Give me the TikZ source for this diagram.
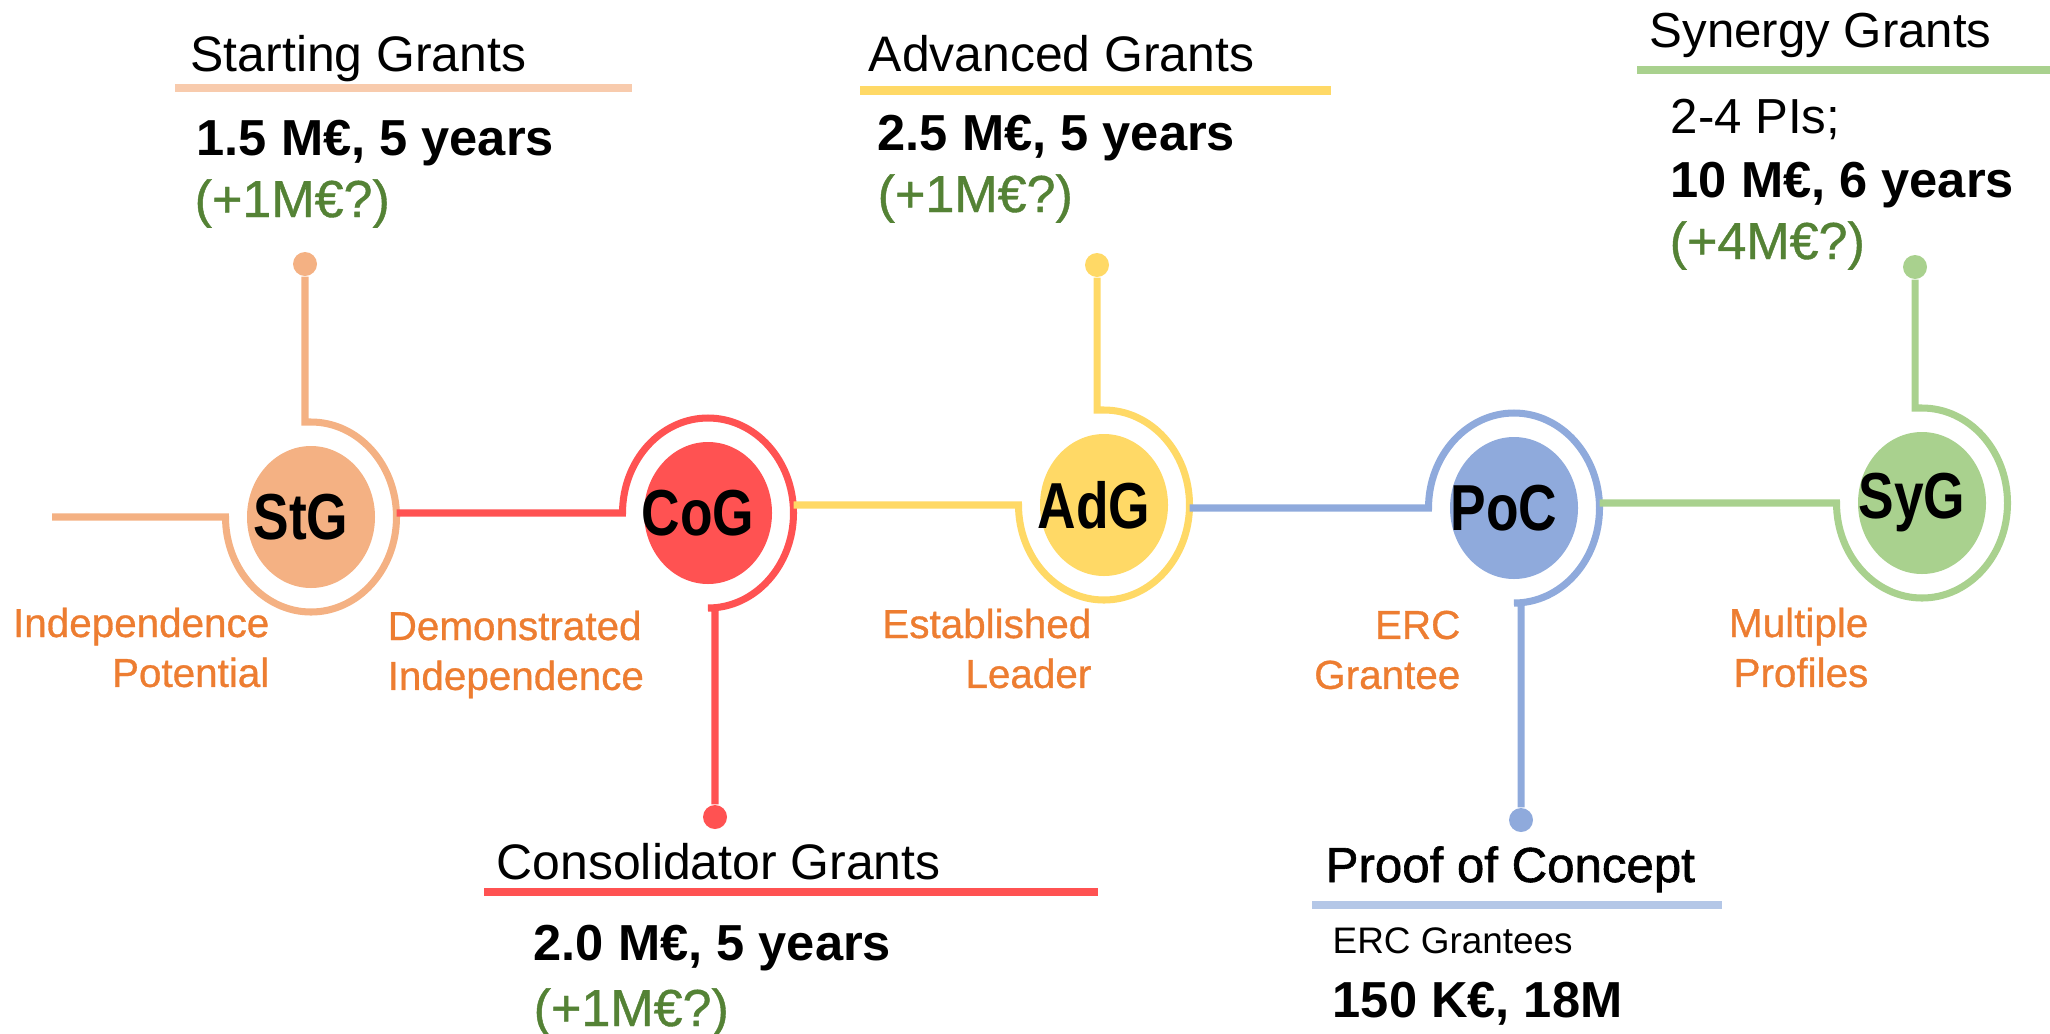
\documentclass[tikz,border=0pt]{standalone}
\usepackage{fontspec}
\setmainfont{Liberation Sans}
\newfontfamily\nodefont[FakeStretch=0.82]{Liberation Sans}
\newfontfamily\semifont[FakeBold=1.2]{Liberation Sans}
\newfontfamily\midfont[FakeBold=0.8]{Liberation Sans}
\usetikzlibrary{shapes.geometric}
\definecolor{stgc}{HTML}{F4B183}
\definecolor{stgl}{HTML}{F8CBAD}
\definecolor{cogc}{HTML}{FF5252}
\definecolor{adgc}{HTML}{FFD966}
\definecolor{pocc}{HTML}{8FAADC}
\definecolor{pocl}{HTML}{B4C7E7}
\definecolor{sygc}{HTML}{A9D18E}
\definecolor{labc}{HTML}{ED7D31}
\definecolor{plusc}{HTML}{548235}
\tikzset{
	grant/.style={ellipse,fill=#1,minimum width=1.28cm,minimum height=1.42cm,inner sep=0pt},
	ring/.style={ellipse,minimum width=1.71cm,minimum height=1.90cm,inner sep=0pt,outer sep=0pt},
	track/.style={draw=#1,line width=2pt},
	pin/.style={circle,fill=#1,minimum size=0.24cm,inner sep=0pt},
	bar/.style={draw=#1,line width=2.3pt},
	gname/.style={font=\nodefont\bfseries\fontsize{18.5}{21}\selectfont,xshift=-1mm},
	head/.style={anchor=base west,inner sep=0pt,font=\fontsize{14.2}{17}\selectfont},
	money/.style={anchor=base west,inner sep=0pt,font=\bfseries\fontsize{14.4}{17}\selectfont},
	extra/.style={anchor=base west,inner sep=0pt,text=plusc,font=\midfont\fontsize{14.8}{17}\selectfont},
	level/.style={inner sep=0pt,text=labc,font=\midfont\fontsize{11.5}{14.2}\selectfont},
}
\begin{document}
\begin{tikzpicture}
	\useasboundingbox (0,0) rectangle (20.5,-10.33);
	\node[grant=stgc,label={[gname]center:StG}] (stg) at (3.11,-5.17) {};
	\node[grant=cogc,label={[gname]center:CoG}] (cog) at (7.08,-5.13) {};
	\node[grant=adgc,label={[gname]center:AdG}] (adg) at (11.04,-5.05) {};
	\node[grant=pocc,label={[gname]center:PoC}] (poc) at (15.14,-5.08) {};
	\node[grant=sygc,label={[gname]center:SyG}] (syg) at (19.22,-5.03) {};
	\foreach \g in {stg,cog,adg,poc,syg}
		\node[ring] (\g R) at (\g) {};
	\coordinate (start) at (0.52,-5.17);
	\node[pin=stgc] (stgpin) at (3.05,-2.64) {};
	\node[pin=cogc] (cogpin) at (7.15,-8.17) {};
	\node[pin=adgc] (adgpin) at (10.97,-2.65) {};
	\node[pin=pocc] (pocpin) at (15.21,-8.20) {};
	\node[pin=sygc] (sygpin) at (19.15,-2.67) {};
	\draw[track=stgc] (stgpin) |- (stgR.north)
		arc[start angle=90,end angle=-180,x radius=0.855cm,y radius=0.95cm] -- (start);
	\draw[track=cogc] (stgR.east |- cogR.west) -- (cogR.west)
		arc[start angle=180,end angle=-90,x radius=0.855cm,y radius=0.95cm] -| (cogpin);
	\draw[track=adgc] (adgpin) |- (adgR.north)
		arc[start angle=90,end angle=-180,x radius=0.855cm,y radius=0.95cm] -- (cogR.east |- adgR.west);
	\draw[track=pocc] (adgR.east |- pocR.west) -- (pocR.west)
		arc[start angle=180,end angle=-90,x radius=0.855cm,y radius=0.95cm] -| (pocpin);
	\draw[track=sygc] (sygpin) |- (sygR.north)
		arc[start angle=90,end angle=-180,x radius=0.855cm,y radius=0.95cm] -- (pocR.east |- sygR.west);
	\node[head] (stgT) at (1.90,-0.71) {Starting Grants};
	\draw[bar=stgl] ([shift={(-0.15,-0.17)}]stgT.base west) -- ++(4.57,0);
	\node[money] (stgM) at (1.96,-1.55) {1.5 M€, 5 years};
	\node[extra] (stgX) at (1.94,-2.17) {(+1M€?)};
	\node[head] (adgT) at (8.68,-0.71) {Advanced Grants};
	\draw[bar=adgc] ([shift={(-0.08,-0.195)}]adgT.base west) -- ++(4.71,0);
	\node[money] (adgM) at (8.77,-1.50) {2.5 M€, 5 years};
	\node[extra] (adgX) at (8.77,-2.12) {(+1M€?)};
	\node[head,font=\fontsize{14}{17}\selectfont] (sygT) at (16.49,-0.47) {Synergy Grants};
	\draw[bar=sygc] ([shift={(-0.12,-0.23)}]sygT.base west) -- ++(4.2,0);
	\node[head,font=\fontsize{14}{17}\selectfont] (sygP) at (16.70,-1.33) {2-4 PIs;};
	\node[money] (sygM) at (16.70,-1.97) {10 M€, 6 years};
	\node[extra] (sygX) at (16.69,-2.59) {(+4M€?)};
	\node[head] (cogT) at (4.96,-8.79) {Consolidator Grants};
	\draw[bar=cogc] ([shift={(-0.12,-0.13)}]cogT.base west) -- ++(6.14,0);
	\node[money] (cogM) at (5.33,-9.60) {2.0 M€, 5 years};
	\node[extra] (cogX) at (5.33,-10.26) {(+1M€?)};
	\node[head,font=\semifont\fontsize{14}{17}\selectfont] (pocT) at (13.25,-8.82) {Proof of Concept};
	\draw[bar=pocl] ([shift={(-0.13,-0.23)}]pocT.base west) -- ++(4.10,0);
	\node[head,font=\fontsize{10.5}{13}\selectfont] (pocE) at (13.32,-9.53) {ERC Grantees};
	\node[money] (pocM) at (13.32,-10.17) {150 K€, 18M};
	\node[level,anchor=north east,align=right] (stgL) at (2.70,-6.07) {Independence\\Potential};
	\node[level,anchor=north west,align=left] (cogL) at (3.87,-6.10) {Demonstrated\\Independence};
	\node[level,anchor=north east,align=right] (adgL) at (10.92,-6.08) {Established\\Leader};
	\node[level,anchor=north east,align=right] (pocL) at (14.61,-6.10) {ERC\\Grantee};
	\node[level,anchor=north east,align=right] (sygL) at (18.69,-6.07) {Multiple\\Profiles};
\end{tikzpicture}
\end{document}
